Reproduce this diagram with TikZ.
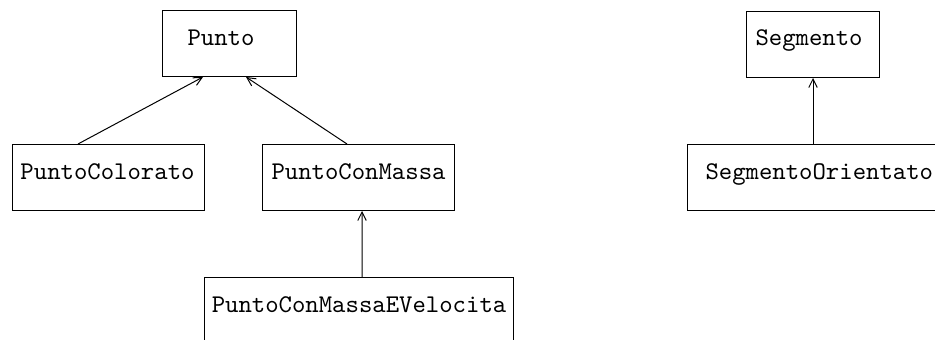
\documentclass[tikz,border=0pt]{standalone}
\usepackage{tikz}
\usetikzlibrary{arrows.meta}
\newcommand{\cls}[1]{\texttt{#1}}

\begin{document}
\begin{tikzpicture}[x=0.4pt,y=-0.4pt,>={Straight Barb[length=3.4pt,width=3.4pt]},
		box/.style={draw,rectangle,anchor=north west,align=left,inner ysep=0pt,
			text height=13.8pt,text depth=12.6pt,font=\fontsize{10.2}{12}\selectfont}]
		\useasboundingbox (0,0) rectangle (935,340);
		\node (p)   [box,inner xsep=10pt, text width=33.6pt]  at (162,10)  {\cls{Punto}};
		\node (pc)  [box,inner xsep=3.2pt,text width=70.4pt]  at (12,144)  {\cls{PuntoColorato}};
		\node (pm)  [box,inner xsep=3.6pt,text width=69.6pt]  at (262,144) {\cls{PuntoConMassa}};
		\node (pmv) [box,inner xsep=2.9pt,text width=117.8pt] at (204,277) {\cls{PuntoConMassaEVelocita}};
		\node (s)   [box,inner xsep=3.6pt,text width=46pt]    at (746,11)  {\cls{Segmento}};
		\node (so)  [box,inner xsep=7.2pt,text width=91.2pt]  at (687,144) {\cls{SegmentoOrientato}};
		\draw[->] ([xshift=26.4pt]pc.north west)  -- ([xshift=16.4pt]p.south west);
		\draw[->] ([xshift=34pt]pm.north west)    -- ([xshift=33.6pt]p.south west);
		\draw[->] ([xshift=63.2pt]pmv.north west) -- ([xshift=40pt]pm.south west);
		\draw[->] (s.south |- so.north)           -- (s.south);
\end{tikzpicture}
\end{document}
